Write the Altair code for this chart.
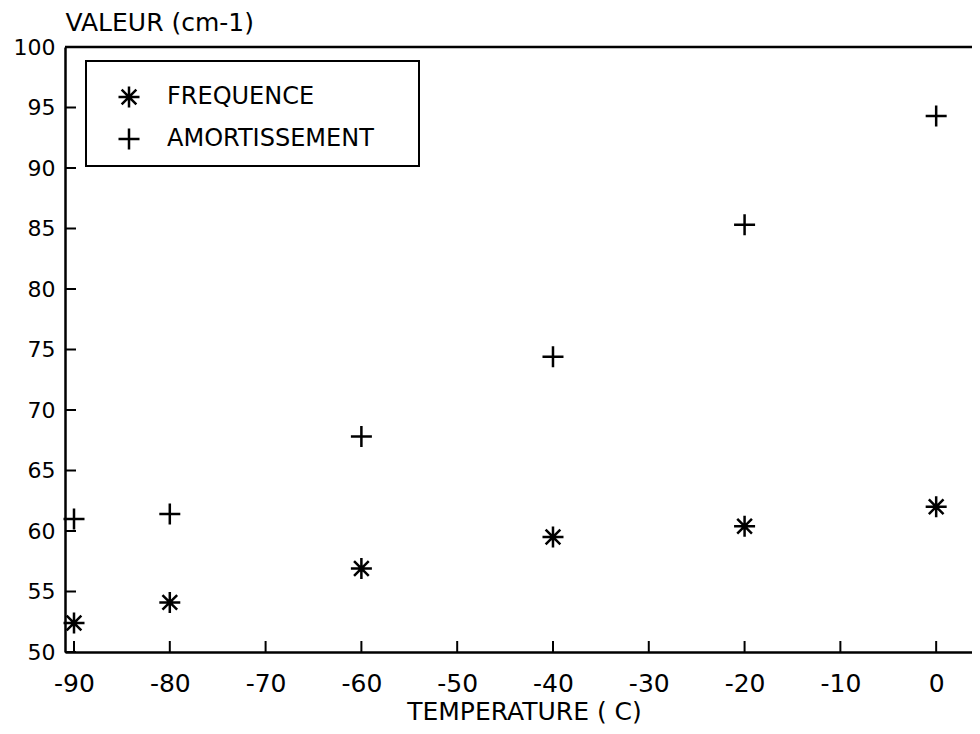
import altair as alt
import pandas as pd

# --- data ---
temperatures = [-90, -80, -60, -40, -20, 0]
frequence = [52.4, 54.1, 56.9, 59.5, 60.4, 62.0]
amortissement = [61.0, 61.4, 67.8, 74.4, 85.3, 94.3]
series_names = ["FREQUENCE", "AMORTISSEMENT"]
x_ticks = [-90, -80, -70, -60, -50, -40, -30, -20, -10, 0]
y_ticks = [50, 55, 60, 65, 70, 75, 80, 85, 90, 95, 100]

rows = []
for t, f, a in zip(temperatures, frequence, amortissement):
    rows.append({"temp": t, "valeur": f, "serie": series_names[0]})
    rows.append({"temp": t, "valeur": a, "serie": series_names[1]})
df = pd.DataFrame(rows)
xt = pd.DataFrame({"temp": x_ticks})
yt = pd.DataFrame({"valeur": y_ticks})

W, H = 907, 605
FONT = "DejaVu Sans"
ASTERISK = "M-1,0L1,0M0,-1L0,1M-0.7,-0.7L0.7,0.7M-0.7,0.7L0.7,-0.7"
PLUS = "M-1,0L1,0M0,-1L0,1"

xscale = alt.Scale(domain=[-90.94, 3.74], nice=False, zero=False)
yscale = alt.Scale(domain=[50, 100], nice=False, zero=False)

xaxis = alt.Axis(
    values=x_ticks, labelExpr="toString(datum.value)", ticks=False, grid=False,
    domainColor="black", domainWidth=2.5, labelFont=FONT, labelFontSize=25,
    labelColor="black", labelPadding=19, labelFlush=False, labelOverlap=False,
    title="TEMPERATURE ( C)", titleFont=FONT, titleFontSize=25,
    titleFontWeight="normal", titleColor="black", titleX=459, titleY=67,
    titleAlign="center", titleBaseline="alphabetic",
)
yaxis = alt.Axis(
    values=y_ticks, labelExpr="toString(datum.value)", ticks=False, grid=False,
    domainColor="black", domainWidth=2.5, labelFont=FONT, labelFontSize=22,
    labelColor="black", labelPadding=10, labelFlush=False, labelOverlap=False,
    title="VALEUR (cm-1)", titleFont=FONT, titleFontSize=25,
    titleFontWeight="normal", titleColor="black", titleAngle=0, titleX=0,
    titleY=-25, titleAlign="left", titleBaseline="middle",
)


def X(field="temp"):
    return alt.X(f"{field}:Q", scale=xscale, axis=xaxis)


def Y(field="valeur"):
    return alt.Y(f"{field}:Q", scale=yscale, axis=yaxis)


legend_box = alt.Chart(xt.head(1)).mark_rect(
    fill="white", stroke="black", strokeWidth=2
).encode(x=alt.value(21), x2=alt.value(354), y=alt.value(14), y2=alt.value(119))

top_rule = alt.Chart(xt.head(1)).mark_rule(color="black", strokeWidth=2.5).encode(
    y=alt.datum(100, scale=yscale, axis=yaxis, type="quantitative"),
    x=alt.value(0), x2=alt.value(W),
)

xtick_rules = alt.Chart(xt).mark_rule(color="black", strokeWidth=2).encode(
    x=X(), y=alt.value(H), y2=alt.value(H - 11)
)
ytick_rules = alt.Chart(yt).mark_rule(color="black", strokeWidth=2).encode(
    y=Y(), x=alt.value(0), x2=alt.value(11)
)

points = alt.Chart(df).mark_point(
    filled=False, color="black", strokeWidth=2.5, size=441, opacity=1
).encode(
    x=X(), y=Y(),
    shape=alt.Shape(
        "serie:N",
        scale=alt.Scale(domain=series_names, range=[ASTERISK, PLUS]),
        legend=alt.Legend(
            title=None, orient="none", legendX=21, legendY=14, padding=24,
            symbolOffset=7, labelOffset=26, rowPadding=10, labelLimit=400,
            labelFont=FONT, labelFontSize=24, labelColor="black",
            symbolSize=441, symbolStrokeWidth=2.5, symbolStrokeColor="black",
            symbolFillColor="transparent", strokeColor="transparent",
        ),
    ),
)

chart = alt.layer(legend_box, top_rule, xtick_rules, ytick_rules, points).properties(
    width=W, height=H,
    autosize=alt.AutoSizeParams(type="none"),
    padding={"left": 57, "top": 39, "right": 0, "bottom": 74},
    background="white",
).configure_view(stroke=None)

chart.save("out.html", embed_options={"renderer": "svg", "actions": False})
